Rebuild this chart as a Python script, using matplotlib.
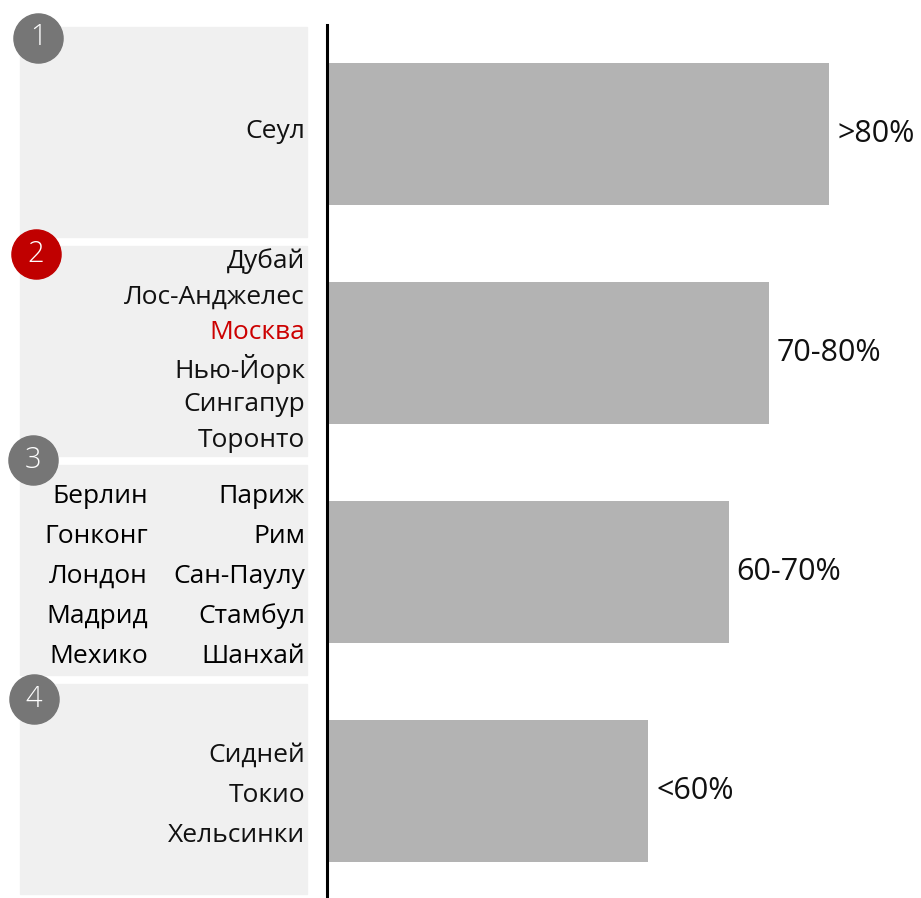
#! /usr/bin/env python3
"""
Share of cities per group, grey bars with grouped city names on the left
"""
import matplotlib
matplotlib.use('Agg')
import matplotlib.pyplot as plt

plt.rcParams['font.family'] = ['Open Sans', 'DejaVu Sans']

groups = ['1', '2', '3', '4']
values = [100, 88, 80, 64]
value_labels = ['>80%', '70-80%', '60-70%', '<60%']
cities = [
    [['Сеул']],
    [['Дубай'], ['Лос-Анджелес'], ['Москва'], ['Нью-Йорк'], ['Сингапур'], ['Торонто']],
    [['Берлин', 'Париж'], ['Гонконг', 'Рим'], ['Лондон', 'Сан-Паулу'],
     ['Мадрид', 'Стамбул'], ['Мехико', 'Шанхай']],
    [['Сидней'], ['Токио'], ['Хельсинки']],
]
highlight_city = 'Москва'
highlight_group = '2'

W, H = 921, 898
fig = plt.figure(figsize=(W / 100, H / 100), dpi=100)

# bar axes
ax = fig.add_axes([327 / W, -2.5 / H, (W - 327) / W, (900.5 - 24.5) / H])
ypos = list(range(len(groups)))
ax.barh(ypos, values, height=0.65, color='#b3b3b3')
for y, v, lab in zip(ypos, values, value_labels):
    ax.text(v + 1.6, y, lab, va='center', ha='left', fontsize=22, color='#111111')
ax.set_ylim(len(groups) - 0.5, -0.5)
ax.set_xlim(0, (W - 327) / 5.02)
for s in ['top', 'right', 'bottom']:
    ax.spines[s].set_visible(False)
ax.spines['left'].set_linewidth(2.2)
ax.set_xticks([])
ax.set_yticks([])

# left panel axes, x in pixels
lx = fig.add_axes([0, -2.5 / H, 327 / W, (900.5 - 24.5) / H], sharey=ax)
lx.set_xlim(0, 327)
lx.axis('off')
badge_dy = [-0.44, -0.45, -0.51, -0.42]
badge_x = [38, 36, 33, 34]
for k, (y, g, rows) in enumerate(zip(ypos, groups, cities)):
    lx.add_patch(plt.Rectangle((20, y - 0.49), 287, 0.96, color='#f0f0f0', zorder=0))
    n = len(rows)
    step = 0.164 if n > 5 else 0.182
    shift = 0.02 if n in (3, 5) else -0.01
    for i, row in enumerate(rows):
        ry = y + shift + (i - (n - 1) / 2) * step
        if len(row) == 2:
            lx.text(148, ry, row[0], ha='right', va='center', fontsize=19)
            lx.text(305, ry, row[1], ha='right', va='center', fontsize=19)
        else:
            c = '#cc0000' if row[0] == highlight_city else '#111111'
            lx.text(305, ry, row[0], ha='right', va='center', fontsize=19, color=c)
    cc = '#c00000' if g == highlight_group else '#767676'
    by = y + badge_dy[k]
    lx.scatter([badge_x[k]], [by], s=1250, color=cc, zorder=3, clip_on=False)
    lx.text(badge_x[k], by, g, ha='center', va='center', fontsize=21,
            fontweight='light', color='white', zorder=4)
lx.set_ylim(len(groups) - 0.5, -0.5)

fig.savefig('out.png', dpi=100)
